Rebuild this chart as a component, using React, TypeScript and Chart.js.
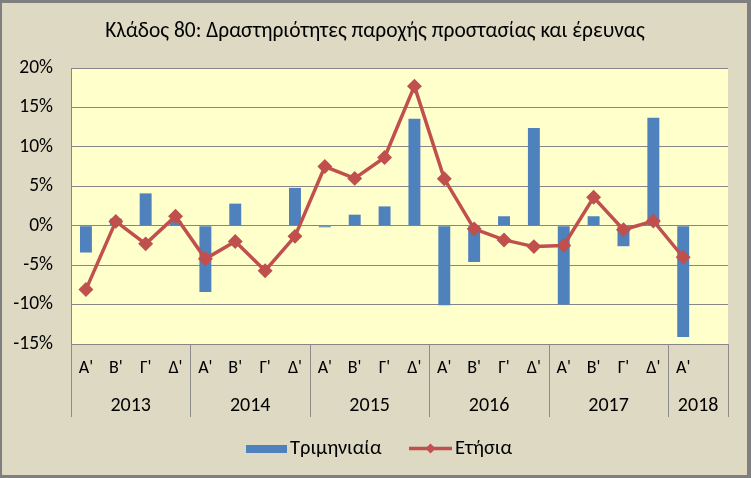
import React, { useEffect, useRef } from 'react';
import { Chart, registerables } from 'chart.js';

Chart.register(...registerables);

const TITLE = 'Κλάδος 80: Δραστηριότητες παροχής προστασίας και έρευνας';
const quarterLabels = ["Α'", "Β'", "Γ'", "Δ'", "Α'", "Β'", "Γ'", "Δ'", "Α'", "Β'", "Γ'", "Δ'", "Α'", "Β'", "Γ'", "Δ'", "Α'", "Β'", "Γ'", "Δ'", "Α'", ''];
const years = ['2013', '2014', '2015', '2016', '2017', '2018'];
const yearSpans = [4, 4, 4, 4, 4, 2];
const quarterly = [-3.4, 0.9, 4.1, 0.6, -8.4, 2.8, 0, 4.8, -0.2, 1.4, 2.45, 13.55, -10.1, -4.6, 1.2, 12.4, -10.0, 1.2, -2.6, 13.7, -14.1, null];
const annual = [-8.1, 0.55, -2.3, 1.2, -4.2, -2.0, -5.7, -1.35, 7.5, 6.0, 8.65, 17.7, 5.95, -0.4, -1.8, -2.65, -2.5, 3.6, -0.5, 0.6, -4.0, null];
const seriesNames = ['Τριμηνιαία', 'Ετήσια'];
const yTicks = { min: -15, max: 20, step: 5 };

const FONT = "Carlito, 'Liberation Sans Narrow', Roboto, sans-serif";
const BG = '#DDD9C3';
const PLOT_BG = '#FFFFCC';
const GRID = '#868686';
const BAR = '#4F81BD';
const LINE = '#C0504D';

const decorPlugin = {
  id: 'decor',
  beforeDraw(chart: any) {
    const { ctx, width, height, chartArea } = chart;
    ctx.save();
    ctx.fillStyle = '#7f7f7f';
    ctx.fillRect(0, 0, width, height);
    ctx.fillStyle = BG;
    ctx.fillRect(2, 3, width - 6, height - 6);
    ctx.fillStyle = PLOT_BG;
    ctx.fillRect(chartArea.left, chartArea.top, chartArea.right - chartArea.left, chartArea.bottom - chartArea.top);
    ctx.restore();
  },
  afterDraw(chart: any) {
    const { ctx, chartArea } = chart;
    const n = quarterLabels.length;
    const cw = (chartArea.right - chartArea.left) / n;
    ctx.save();
    // year separators and labels
    ctx.strokeStyle = '#8c8c8c';
    ctx.lineWidth = 1;
    let idx = 0;
    const bounds: number[] = [0];
    yearSpans.forEach((s) => { idx += s; bounds.push(idx); });
    bounds.forEach((b) => {
      const px = Math.round(chartArea.left + b * cw) + 0.5;
      ctx.beginPath();
      ctx.moveTo(px, chartArea.bottom);
      ctx.lineTo(px, 417);
      ctx.stroke();
    });
    ctx.fillStyle = '#000';
    ctx.font = `20px ${FONT}`;
    ctx.textAlign = 'center';
    ctx.textBaseline = 'alphabetic';
    let start = 0;
    years.forEach((y, i) => {
      const cx = chartArea.left + (start + yearSpans[i] / 2) * cw;
      ctx.fillText(y, cx, 411);
      start += yearSpans[i];
    });
    // title
    ctx.font = `21.4px ${FONT}`;
    ctx.fillText(TITLE, 375, 37);
    // legend
    ctx.textAlign = 'left';
    ctx.font = `20.5px ${FONT}`;
    ctx.fillStyle = BAR;
    ctx.fillRect(246, 445, 41, 8);
    ctx.fillStyle = '#000';
    ctx.fillText(seriesNames[0], 290, 454);
    ctx.strokeStyle = LINE;
    ctx.lineWidth = 3.5;
    ctx.beginPath();
    ctx.moveTo(409, 448.5);
    ctx.lineTo(452, 448.5);
    ctx.stroke();
    ctx.fillStyle = LINE;
    ctx.beginPath();
    ctx.moveTo(430.5, 443.5);
    ctx.lineTo(435.5, 448.5);
    ctx.lineTo(430.5, 453.5);
    ctx.lineTo(425.5, 448.5);
    ctx.closePath();
    ctx.fill();
    ctx.fillStyle = '#000';
    ctx.fillText(seriesNames[1], 455, 454);
    ctx.restore();
  },
};

export default function App() {
  const ref = useRef<HTMLCanvasElement>(null);
  useEffect(() => {
    if (!ref.current) return;
    const chart = new Chart(ref.current, {
      type: 'bar',
      data: {
        labels: quarterLabels,
        datasets: [
          {
            type: 'line',
            label: seriesNames[1],
            data: annual,
            borderColor: LINE,
            backgroundColor: LINE,
            borderWidth: 3.5,
            pointStyle: 'rectRot',
            pointRadius: 5,
            pointBackgroundColor: LINE,
            pointBorderColor: LINE,
            tension: 0,
            order: 1,
          } as any,
          {
            type: 'bar',
            label: seriesNames[0],
            data: quarterly,
            backgroundColor: BAR,
            barPercentage: 0.4,
            categoryPercentage: 1,
            order: 2,
          },
        ],
      },
      options: {
        responsive: false,
        animation: false,
        devicePixelRatio: 1,
        layout: { padding: { top: 68, left: 0, right: 23, bottom: 61 } },
        plugins: {
          legend: { display: false },
          title: { display: false },
          tooltip: { enabled: false },
        },
        scales: {
          x: {
            grid: { display: false, drawTicks: false },
            border: { display: true, color: GRID, width: 1 },
            ticks: {
              color: '#000',
              font: { family: FONT, size: 18 },
              padding: 14,
              maxRotation: 0,
              autoSkip: false,
            },
            afterFit: (s: any) => { s.height = 73; },
          },
          y: {
            min: yTicks.min,
            max: yTicks.max,
            grid: { color: GRID, lineWidth: 1, drawTicks: false },
            border: { display: true, color: GRID, width: 1 },
            ticks: {
              stepSize: yTicks.step,
              color: '#000',
              font: { family: FONT, size: 19.5 },
              padding: 18,
              callback: (v: any) => `${v}%`,
            },
            afterFit: (s: any) => { s.width = 71; },
          },
        },
      },
      plugins: [decorPlugin],
    });
    return () => chart.destroy();
  }, []);
  return (
    <div style={{ position: 'absolute', left: 0, top: 0, width: 751, height: 478 }}>
      <canvas ref={ref} width={751} height={478} style={{ display: 'block' }} />
    </div>
  );
}
